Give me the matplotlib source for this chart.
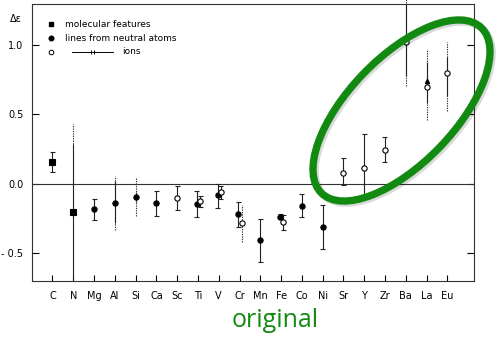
import matplotlib
matplotlib.use("Agg")
import matplotlib.pyplot as plt
import matplotlib.patheffects as pe
import numpy as np
from matplotlib.patches import Ellipse

nan = np.nan

elements = ["C", "N", "Mg", "Al", "Si", "Ca", "Sc", "Ti", "V", "Cr",
            "Mn", "Fe", "Co", "Ni", "Sr", "Y", "Zr", "Ba", "La", "Eu"]
yticks = [-0.5, 0.0, 0.5, 1.0]
ytick_labels = ["- 0.5", "0.0", "0.5", "1.0"]

# molecular features (squares)
mol_el = ["C", "N"]
mol_val = [0.158, -0.20]
mol_lo = [0.084, -0.75]
mol_hi = [0.228, 0.29]
mol_dot_lo = [nan, 0.29]
mol_dot_hi = [nan, 0.43]

# lines from neutral atoms (filled circles)
neu_el = ["Mg", "Al", "Si", "Ca", "Ti", "V", "Cr", "Mn", "Fe", "Co", "Ni"]
neu_val = [-0.18, -0.135, -0.094, -0.14, -0.145, -0.08, -0.215, -0.405, -0.235, -0.156, -0.31]
neu_lo = [-0.26, -0.28, -0.13, -0.23, -0.235, -0.175, -0.307, -0.56, -0.25, -0.237, -0.47]
neu_hi = [-0.11, 0.02, -0.06, -0.05, -0.05, 0.0, -0.13, -0.25, -0.215, -0.074, -0.15]
neu_dot_lo = [nan, -0.33, -0.23, nan, nan, nan, nan, nan, nan, nan, nan]
neu_dot_hi = [nan, 0.06, 0.04, nan, nan, nan, nan, nan, nan, nan, nan]

# ions (open circles)
ion_el = ["Sc", "Ti", "V", "Cr", "Fe", "Sr", "Y", "Zr", "Ba", "La", "Eu"]
ion_val = [-0.10, -0.125, -0.057, -0.283, -0.276, 0.079, 0.113, 0.247, 1.024, 0.70, 0.796]
ion_lo = [-0.19, -0.163, -0.11, nan, -0.33, -0.007, -0.10, 0.158, 0.78, 0.58, 0.63]
ion_hi = [-0.015, -0.086, -0.015, nan, -0.22, 0.185, 0.36, 0.336, 1.30, 0.88, 0.916]
ion_dot_lo = [nan, nan, nan, -0.415, nan, nan, nan, nan, 0.705, 0.46, 0.525]
ion_dot_hi = [nan, nan, nan, -0.15, nan, nan, nan, nan, 1.33, 0.97, 1.024]

la_arrow = 0.74

# elements that have both neutral and ion points are drawn slightly apart
pair = {"Ti", "V", "Cr", "Fe"}


def xpos(names, shift):
    return np.array([elements.index(n) + (shift if n in pair else 0.0) for n in names])


def draw_group(ax, x, val, lo, hi, dlo, dhi, marker, face, ms):
    lo, hi, dlo, dhi = map(np.asarray, (lo, hi, dlo, dhi))
    for xi, l, h, dl, dh in zip(x, lo, hi, dlo, dhi):
        if not np.isnan(dl):
            ax.vlines(xi, dl, dh, colors="#333333", lw=0.8, linestyles=(0, (1.2, 1.0)),
                      clip_on=False)
        if not np.isnan(l):
            ax.vlines(xi, l, h, colors="#222222", lw=0.8)
            if np.isnan(dl):
                ax.hlines([l, h], xi - 0.12, xi + 0.12, colors="#222222", lw=0.8)
    ax.plot(x, val, ls="none", marker=marker, ms=ms, mfc=face, mec="black", mew=0.8, zorder=5)


fig = plt.figure(figsize=(4.96, 3.39), dpi=100)
ax = fig.add_axes([0.0639, 0.1711, 0.8924, 0.8171])
ax.set_xlim(-1.0, 20.3)
ax.set_ylim(-0.698, 1.295)

ax.axhline(0.0, color="#333333", lw=0.8)

draw_group(ax, xpos(mol_el, 0.0), mol_val, mol_lo, mol_hi, mol_dot_lo, mol_dot_hi, "s", "black", 4.2)
draw_group(ax, xpos(neu_el, -0.05), neu_val, neu_lo, neu_hi, neu_dot_lo, neu_dot_hi, "o", "black", 3.8)
draw_group(ax, xpos(ion_el, 0.1), ion_val, ion_lo, ion_hi, ion_dot_lo, ion_dot_hi, "o", "white", 3.8)
ax.plot([elements.index("La")], [la_arrow], ls="none", marker="^", ms=3, color="black", zorder=6)

ax.set_xticks(range(len(elements)))
ax.set_xticklabels(elements, fontsize=7)
ax.set_yticks(yticks)
ax.set_yticklabels(ytick_labels, fontsize=7)
ax.tick_params(axis="x", direction="in", length=4, width=0.8, pad=7)
ax.tick_params(axis="y", direction="in", length=5, width=0.8, pad=6, right=True)
for s in ax.spines.values():
    s.set_color("#333333")
    s.set_linewidth(0.8)

ax.text(-1.75, 1.19, "Δε", fontsize=7, ha="center", va="center", clip_on=False)

# legend drawn by hand, as in the original figure
ax.plot([-0.05], [1.151], marker="s", ms=3.3, color="black", ls="none")
ax.plot([-0.05], [1.05], marker="o", ms=3.3, color="black", ls="none")
ax.plot([-0.05], [0.95], marker="o", ms=3.3, mfc="white", mec="black", mew=0.7, ls="none")
ax.text(0.6, 1.151, "molecular features", fontsize=6.5, va="center")
ax.text(0.6, 1.05, "lines from neutral atoms", fontsize=6.5, va="center")
ax.plot([0.95, 2.9], [0.95, 0.95], color="black", lw=0.7)
ax.plot([1.85, 2.0], [0.95, 0.95], marker="|", ms=3, color="black", ls="none", mew=0.7)
ax.text(3.35, 0.95, "ions", fontsize=6.5, va="center")

# green highlight annotation
ell = Ellipse((4.015, 2.285), 2.30, 1.06, angle=46, fill=False, ec="#128a12", lw=5.3,
              transform=fig.dpi_scale_trans, zorder=10,
              path_effects=[pe.SimpleLineShadow(offset=(1.5, -1.5), alpha=0.15,
                                                shadow_color="black"), pe.Normal()])
fig.patches.append(ell)
fig.text(0.555, 0.035, "original", color="#128a12", fontsize=18, family="Open Sans",
         ha="center", va="baseline")

fig.savefig("out.png", dpi=100)
